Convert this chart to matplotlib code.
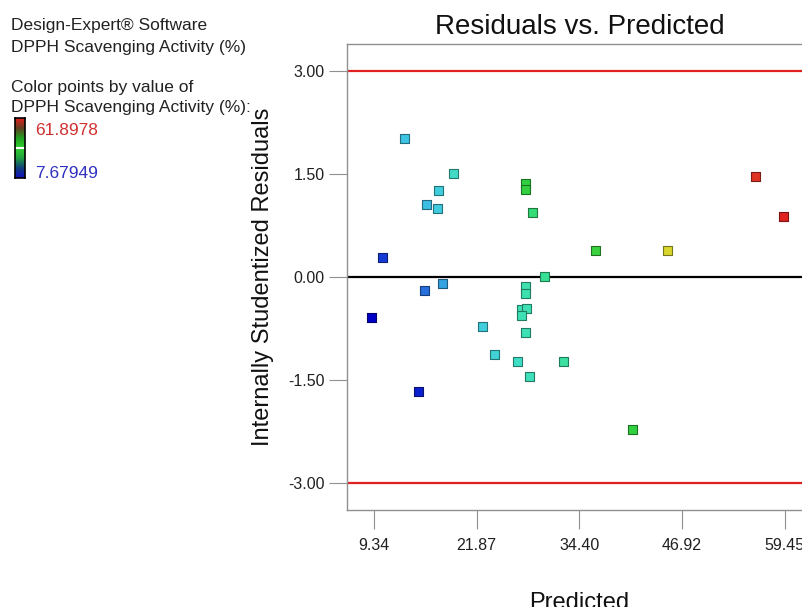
import numpy as np
import matplotlib
matplotlib.use("Agg")
import matplotlib.pyplot as plt
from matplotlib.colors import LinearSegmentedColormap, Normalize, to_rgb

plt.rcParams['font.family'] = ['Liberation Sans', 'DejaVu Sans']

# predicted values, internally studentized residuals and actual response
predicted = [13.12, 10.44, 9.10, 15.80, 17.27, 17.14, 19.10, 15.56, 17.75, 14.83,
             22.63, 24.10, 26.90, 28.36, 27.88, 27.88, 28.73, 30.19, 27.88, 27.88,
             27.39, 28.00, 27.39, 27.88, 32.51, 36.41, 45.19, 40.93, 55.93, 59.34]
residuals = [2.01, 0.28, -0.60, 1.05, 1.26, 1.00, 1.50, -0.20, -0.10, -1.68,
             -0.72, -1.13, -1.23, -1.45, 1.36, 1.27, 0.94, 0.00, -0.15, -0.25,
             -0.48, -0.46, -0.57, -0.82, -1.24, 0.38, 0.38, -2.23, 1.46, 0.87]
actual = [19.5, 11.0, 7.68, 19.0, 21.0, 20.5, 24.0, 14.0, 17.0, 9.5,
          21.0, 22.0, 24.5, 25.5, 35.0, 35.0, 32.0, 30.0, 27.0, 27.0,
          26.5, 26.5, 26.5, 26.5, 28.5, 35.5, 46.5, 35.0, 60.0, 61.8978]

act_min = 7.67949
act_max = 61.8978
x_ticks = [9.34, 21.87, 34.40, 46.92, 59.45]
y_ticks = [3.00, 1.50, 0.00, -1.50, -3.00]
limit = 3.0

cmap = LinearSegmentedColormap.from_list('de', [
    (0.00, '#0000c8'), (0.08, '#1e50d8'), (0.15, '#3090e0'), (0.22, '#40c8e4'),
    (0.32, '#40e0c0'), (0.42, '#38e090'), (0.50, '#30d040'), (0.70, '#d8e030'),
    (1.00, '#e02020')])
bar_cmap = LinearSegmentedColormap.from_list(
    'bar', ['#1010c0', '#10407a', '#20a040', '#30d030', '#20a020', '#604020', '#e02020'])

fig = plt.figure(figsize=(8.03, 6.07), dpi=100)
ax = fig.add_axes([0.4321, 0.1598, 0.579, 0.7677])

norm = Normalize(act_min, act_max)
face = cmap(norm(actual))
edge = [tuple(np.array(to_rgb(c[:3])) * 0.55) for c in face]

ax.axhline(limit, color='#e02020', lw=1.6, zorder=1)
ax.axhline(-limit, color='#e02020', lw=1.6, zorder=1)
ax.axhline(0, color='black', lw=1.6, zorder=1)
ax.scatter(predicted, residuals, marker='s', s=42, c=face, edgecolors=edge,
           linewidths=0.8, zorder=3)

ax.set_xlim(6.05, 62.75)
ax.set_ylim(-3.40, 3.39)
ax.set_xticks(x_ticks)
ax.set_xticklabels(['%.2f' % v for v in x_ticks])
ax.set_yticks(y_ticks)
ax.set_yticklabels(['%.2f' % v for v in y_ticks])
ax.tick_params(axis='x', length=14, pad=6, color='#909090', labelsize=11.5, labelcolor='#202020')
ax.tick_params(axis='y', length=13, pad=3, color='#909090', labelsize=11.5, labelcolor='#202020')
for s in ax.spines.values():
    s.set_color('#909090')
    s.set_linewidth(1)

ax.set_title('Residuals vs. Predicted', fontsize=20, pad=7, color='#111111')
ax.set_xlabel('Predicted', fontsize=17, labelpad=28, color='#111111')
ax.set_ylabel('Internally Studentized Residuals', fontsize=17, labelpad=10, color='#111111')

# legend text and colour bar on the left
fig.text(0.0137, 0.9506, 'Design-Expert® Software', fontsize=12.5, va='baseline', color='#222222')
fig.text(0.0137, 0.9143, 'DPPH Scavenging Activity (%)', fontsize=12.5, va='baseline', color='#222222')
fig.text(0.0137, 0.8484, 'Color points by value of', fontsize=12.5, va='baseline', color='#222222')
fig.text(0.0137, 0.8155, 'DPPH Scavenging Activity (%):', fontsize=12.5, va='baseline', color='#222222')
fig.text(0.0436, 0.7776, '%.4f' % act_max, fontsize=12.5, va='baseline', color='#d03030')
fig.text(0.0436, 0.7068, '%.5f' % act_min, fontsize=12.5, va='baseline', color='#3030c0')

cax = fig.add_axes([0.0187, 0.7068, 0.01245, 0.0988])
grad = np.linspace(1, 0, 100).reshape(-1, 1)
cax.imshow(grad, aspect='auto', cmap=bar_cmap, extent=[0, 1, 0, 1])
cax.axhline(0.5, color='white', lw=1.5)
cax.set_xticks([])
cax.set_yticks([])
for s in cax.spines.values():
    s.set_color('black')
    s.set_linewidth(1.2)

fig.savefig('out.png', dpi=100)
